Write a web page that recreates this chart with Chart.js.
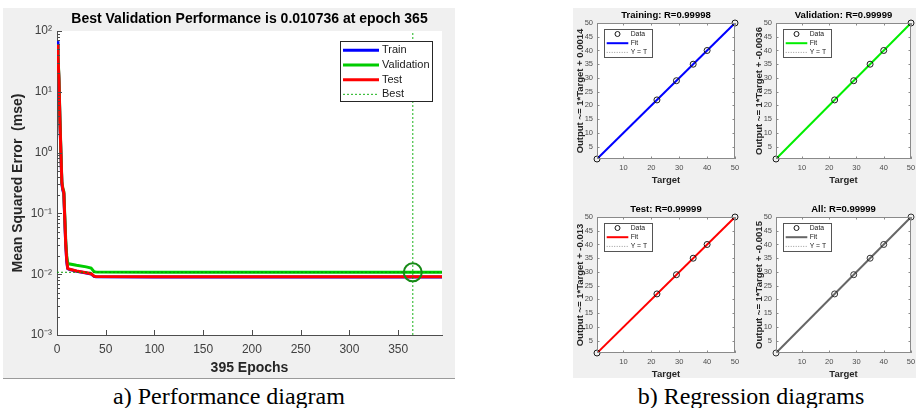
<!DOCTYPE html>
<html>
<head>
<meta charset="utf-8">
<script src="https://cdn.jsdelivr.net/npm/chart.js@4.4.1/dist/chart.umd.min.js"></script>
<style>
  body { margin: 0; width: 916px; height: 408px; background: #fff; position: relative; overflow: hidden; }
  .panel { position: absolute; background: #f0f0f0; }
  .box { position: absolute; }
  .box canvas { display: block; }
  .caption { position: absolute; top: 382px; line-height: 28px; font-family: 'Liberation Serif', 'Times New Roman', serif; font-size: 24px; color: #000; text-align: center; white-space: nowrap; }
</style>
</head>
<body>
<div class="panel" style="left:3px;top:8px;width:452px;height:370px;border-bottom:1px solid #9a9a9a"></div>
<div class="panel" style="left:573px;top:8px;width:343px;height:370px"></div>

<div class="box" style="left:3px;top:8px"><canvas id="perf" width="452" height="370"></canvas></div>
<div class="box" style="left:572px;top:8px"><canvas id="reg0" width="168" height="180"></canvas></div>
<div class="box" style="left:751px;top:8px"><canvas id="reg1" width="165" height="180"></canvas></div>
<div class="box" style="left:572px;top:202px"><canvas id="reg2" width="168" height="180"></canvas></div>
<div class="box" style="left:751px;top:202px"><canvas id="reg3" width="165" height="180"></canvas></div>

<div class="caption" style="left:79px;width:300px">a) Performance diagram</div>
<div class="caption" style="left:601px;width:300px">b) Regression diagrams</div>

<script>
// --- performance curve ---
const epochs    = [0, 1, 2, 3, 4, 5, 6, 7, 8, 9, 10, 11, 12, 20, 30, 35, 38, 40, 100, 200, 300, 365, 395];
const trainPerf = [68, 38, 15, 3.3, 0.95, 0.3, 0.24, 0.21, 0.075, 0.03, 0.016, 0.0124, 0.0121, 0.0112, 0.0105, 0.0101, 0.0092, 0.0091, 0.0090, 0.0090, 0.0090, 0.0090, 0.0090];
const valPerf   = [60, 40, 17, 3.8, 1.1, 0.33, 0.26, 0.23, 0.09, 0.035, 0.02, 0.0155, 0.0148, 0.0140, 0.0132, 0.0126, 0.0110, 0.01085, 0.0108, 0.01076, 0.01074, 0.010736, 0.010736];
const testPerf  = [59, 38, 16, 3.5, 1.0, 0.32, 0.25, 0.22, 0.08, 0.03, 0.017, 0.0125, 0.0122, 0.0113, 0.0106, 0.0102, 0.0093, 0.0092, 0.0091, 0.0091, 0.0091, 0.0091, 0.0091];
const bestEpoch = 365;
const bestPerf = 0.010736;
const epochMax = 395;
const mseMin = 1e-3, mseMax = 1e2;
const epochTicks = [0, 50, 100, 150, 200, 250, 300, 350];
const mseTicks = [1e-3, 1e-2, 1e-1, 1, 10, 100];
const mseLabels = ['10⁻³', '10⁻²', '10⁻¹', '10⁰', '10¹', '10²'];

// --- regression plots ---
const targets = [0.5, 22, 29, 35, 40, 50];
const outputs = [0.5, 22, 29, 35, 40, 50];
const regNames = ['Training', 'Validation', 'Test', 'All'];
const regR = ['0.99998', '0.99999', '0.99999', '0.99999'];
const regIntercept = [0.0014, -0.0036, -0.013, -0.0015];
const regColors = ['#0000ff', '#00ee00', '#ff0000', '#666666'];
const targetTicks = [10, 20, 30, 40, 50];
const outputTicks = [5, 10, 15, 20, 25, 30, 35, 40, 45, 50];

Chart.defaults.font.family = "'Liberation Sans', Arial, sans-serif";

// white plot area + inward tick marks (and full box for the regression axes)
const axesBox = {
  id: 'axesBox',
  beforeDraw(chart) {
    const { ctx, chartArea: a } = chart;
    ctx.save();
    ctx.fillStyle = '#fff';
    ctx.fillRect(a.left, a.top, a.right - a.left, a.bottom - a.top);
    ctx.restore();
  },
  afterDatasetsDraw(chart, args, o) {
    const { ctx, chartArea: a, scales: { x, y } } = chart;
    ctx.save();
    ctx.strokeStyle = o.color;
    ctx.lineWidth = 1;
    ctx.beginPath();
    x.ticks.forEach(t => {
      const px = Math.round(x.getPixelForValue(t.value)) + 0.5;
      ctx.moveTo(px, a.bottom); ctx.lineTo(px, a.bottom - o.len);
      if (o.box) { ctx.moveTo(px, a.top); ctx.lineTo(px, a.top + o.len); }
    });
    y.ticks.forEach(t => {
      const py = Math.round(y.getPixelForValue(t.value)) + 0.5;
      ctx.moveTo(a.left, py); ctx.lineTo(a.left + o.len, py);
      if (o.box) { ctx.moveTo(a.right, py); ctx.lineTo(a.right - o.len, py); }
    });
    if (o.minorLog) {
      for (let e = Math.round(Math.log10(y.min)); e < Math.round(Math.log10(y.max)); e++) {
        for (let m = 2; m <= 9; m++) {
          const py = Math.round(y.getPixelForValue(m * Math.pow(10, e))) + 0.5;
          ctx.moveTo(a.left, py); ctx.lineTo(a.left + o.len * 0.6, py);
        }
      }
    }
    ctx.stroke();
    if (o.box) ctx.strokeRect(Math.round(a.left) + 0.5, Math.round(a.top) + 0.5, Math.round(a.right - a.left) - 1, Math.round(a.bottom - a.top) - 1);
    ctx.restore();
  }
};

// MATLAB style legend box drawn inside the axes
const insetLegend = {
  id: 'insetLegend',
  afterDraw(chart, args, o) {
    if (!o.display) return;
    const { ctx, chartArea: a } = chart;
    const items = chart.data.datasets.filter(d => d.label);
    const x0 = o.right ? a.right - o.dx - o.width : a.left + o.dx;
    const y0 = a.top + o.dy;
    ctx.save();
    ctx.fillStyle = '#fff';
    ctx.fillRect(x0, y0, o.width, o.height);
    ctx.strokeStyle = o.frame;
    ctx.lineWidth = 1;
    ctx.strokeRect(Math.round(x0) + 0.5, Math.round(y0) + 0.5, o.width, o.height);
    ctx.font = o.fontSize + "px 'Liberation Sans', Arial, sans-serif";
    ctx.textBaseline = 'middle';
    ctx.fillStyle = '#1a1a1a';
    items.forEach((d, i) => {
      const ry = y0 + o.first + i * o.gap;
      if (d.showLine === false) {
        ctx.setLineDash([]);
        ctx.strokeStyle = d.borderColor;
        ctx.lineWidth = 1;
        ctx.beginPath();
        ctx.arc(x0 + (o.l0 + o.l1) / 2, ry, o.marker, 0, Math.PI * 2);
        ctx.stroke();
      } else {
        ctx.setLineDash(d.borderDash || []);
        ctx.strokeStyle = d.borderColor;
        ctx.lineWidth = d.borderWidth;
        ctx.beginPath();
        ctx.moveTo(x0 + o.l0, ry); ctx.lineTo(x0 + o.l1, ry);
        ctx.stroke();
      }
      ctx.fillText(d.label, x0 + o.tx, ry);
    });
    ctx.restore();
  }
};

Chart.register(axesBox, insetLegend);

const xy = (xs, ys) => xs.map((v, i) => ({ x: v, y: ys[i] }));

new Chart(document.getElementById('perf'), {
  type: 'scatter',
  data: {
    datasets: [
      { label: 'Train', data: xy(epochs, trainPerf), showLine: true, borderColor: '#0000ff', borderWidth: 3, pointRadius: 0, order: 4 },
      { label: 'Validation', data: xy(epochs, valPerf), showLine: true, borderColor: '#00cc00', borderWidth: 3, pointRadius: 0, order: 3 },
      { label: 'Test', data: xy(epochs, testPerf), showLine: true, borderColor: '#ff0000', borderWidth: 3, pointRadius: 0, order: 2 },
      { label: 'Best', data: [{ x: bestEpoch, y: mseMin }, { x: bestEpoch, y: mseMax }], showLine: true, borderColor: 'rgba(0,170,0,0.75)', borderWidth: 1.2, borderDash: [2, 2], pointRadius: 0, order: 1 },
      { data: [{ x: 0, y: bestPerf }, { x: epochMax, y: bestPerf }], showLine: true, borderColor: 'rgba(0,150,0,0.8)', borderWidth: 1.2, borderDash: [2, 2], pointRadius: 0, order: 1 },
      { data: [{ x: bestEpoch, y: bestPerf }], showLine: false, pointRadius: 9, pointBorderWidth: 2, pointBorderColor: '#178a17', pointBackgroundColor: 'transparent', order: 0 }
    ]
  },
  options: {
    responsive: false,
    animation: false,
    events: [],
    layout: { padding: { top: 0, right: 13, bottom: 0, left: 0 } },
    scales: {
      x: {
        type: 'linear', min: 0, max: epochMax,
        afterBuildTicks: s => { s.ticks = epochTicks.map(v => ({ value: v })); },
        afterFit: s => { s.height = 43; s.paddingLeft = 0; s.paddingRight = 0; },
        ticks: { font: { size: 12 }, color: '#404040', padding: 7, maxRotation: 0, autoSkip: false },
        grid: { drawOnChartArea: false, drawTicks: false },
        border: { color: '#4d4d4d', width: 1 },
        title: { display: true, text: '395 Epochs', font: { size: 14, weight: 'bold' }, color: '#262626', padding: { top: 0, bottom: 1 } }
      },
      y: {
        type: 'logarithmic', min: mseMin, max: mseMax,
        afterBuildTicks: s => { s.ticks = mseTicks.map(v => ({ value: v })); },
        afterFit: s => { s.width = 54; s.paddingTop = 0; s.paddingBottom = 0; },
        ticks: { font: { size: 12 }, color: '#404040', padding: 5, autoSkip: false, callback: (v, i) => mseLabels[i] },
        grid: { drawOnChartArea: false, drawTicks: false },
        border: { color: '#4d4d4d', width: 1 },
        title: { display: true, text: 'Mean Squared Error  (mse)', font: { size: 14, weight: 'bold' }, color: '#262626', padding: { top: 6.5, bottom: 0 } }
      }
    },
    plugins: {
      legend: { display: false },
      tooltip: { enabled: false },
      title: {
        display: true, fullSize: false,
        text: 'Best Validation Performance is ' + bestPerf + ' at epoch ' + bestEpoch,
        font: { size: 14, weight: 'bold' }, color: '#000',
        padding: { top: 3, bottom: 3.2 }
      },
      axesBox: { color: '#4d4d4d', len: 5, box: false, minorLog: true },
      insetLegend: { display: true, right: true, dx: 10, dy: 10, width: 92, height: 60, first: 9.3, gap: 14.7, l0: 3, l1: 39, tx: 42, fontSize: 11, marker: 3, frame: '#262626' }
    }
  }
});

regNames.forEach((name, k) => {
  const canvas = document.getElementById('reg' + k);
  const tMin = Math.min(...targets), tMax = Math.max(...targets);
  const b = regIntercept[k];
  new Chart(canvas, {
    type: 'scatter',
    data: {
      datasets: [
        { label: 'Data', data: xy(targets, outputs), showLine: false, clip: false, pointRadius: 3, pointBorderWidth: 1, pointBorderColor: k === 3 ? '#333' : '#1a1a1a', pointBackgroundColor: 'transparent', borderColor: '#1a1a1a', order: 0 },
        { label: 'Fit', data: [{ x: tMin, y: tMin + b }, { x: tMax, y: tMax + b }], showLine: true, borderColor: regColors[k], borderWidth: 2, pointRadius: 0, order: 1 },
        { label: 'Y = T', data: [{ x: tMin, y: tMin }, { x: tMax, y: tMax }], showLine: true, borderColor: '#999', borderWidth: 1, borderDash: [1, 1.5], pointRadius: 0, order: 2 }
      ]
    },
    options: {
      responsive: false,
      animation: false,
      events: [],
      layout: { padding: { top: 0, right: canvas.width - 163, bottom: 0, left: 0 } },
      scales: {
        x: {
          type: 'linear', min: tMin, max: tMax,
          afterBuildTicks: s => { s.ticks = targetTicks.map(v => ({ value: v })); },
          afterFit: s => { s.height = 29; s.paddingLeft = 0; s.paddingRight = 0; },
          ticks: { font: { size: 7.5 }, color: '#4d4d4d', padding: 4, maxRotation: 0, autoSkip: false },
          grid: { drawOnChartArea: false, drawTicks: false },
          border: { display: false },
          title: { display: true, text: 'Target', font: { size: 9.5, weight: 'bold' }, color: '#262626', padding: { top: 0, bottom: 2.3 } }
        },
        y: {
          type: 'linear', min: tMin, max: tMax,
          afterBuildTicks: s => { s.ticks = outputTicks.map(v => ({ value: v })); },
          afterFit: s => { s.width = 25; s.paddingTop = 0; s.paddingBottom = 0; },
          ticks: { font: { size: 7.5 }, color: '#4d4d4d', padding: 4, autoSkip: false },
          grid: { drawOnChartArea: false, drawTicks: false },
          border: { display: false },
          title: { display: true, text: 'Output ~= 1*Target + ' + b, font: { size: 9.5, weight: 'bold' }, color: '#262626', padding: { top: 3, bottom: 0 } }
        }
      },
      plugins: {
        legend: { display: false },
        tooltip: { enabled: false },
        title: {
          display: true, fullSize: false,
          text: name + ': R=' + regR[k],
          font: { size: 9.5, weight: 'bold' }, color: '#000',
          padding: { top: 2, bottom: 1.6 }
        },
        axesBox: { color: '#8a8a8a', len: 2.5, box: true, minorLog: false },
        insetLegend: { display: true, right: false, dx: 7, dy: 6, width: 48, height: 28, first: 5, gap: 9.2, l0: 2.7, l1: 24.3, tx: 26.7, fontSize: 6.8, marker: 2.5, frame: '#555' }
      }
    }
  });
});
</script>
</body>
</html>
